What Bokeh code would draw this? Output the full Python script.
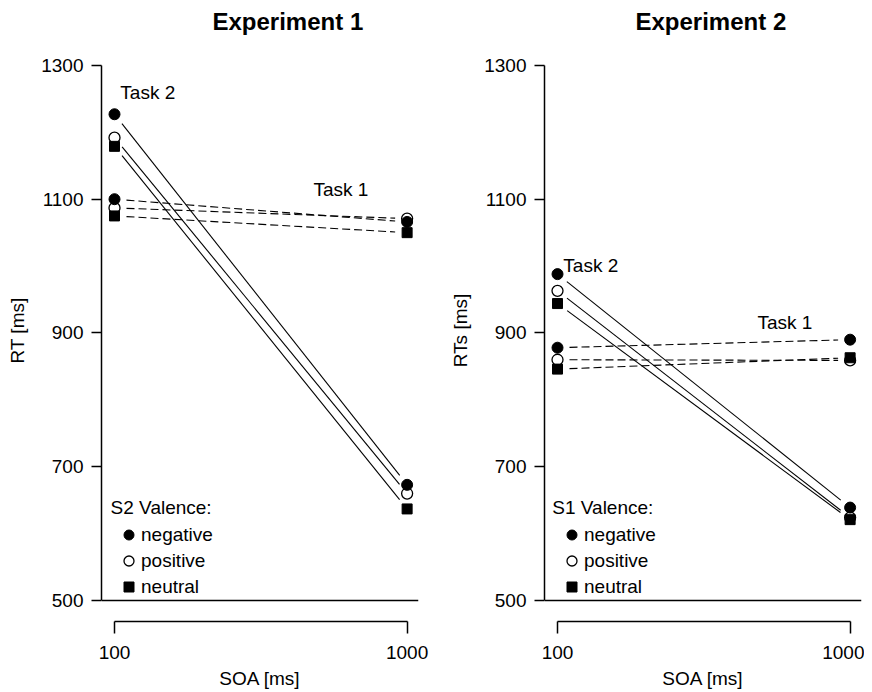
import math
from bokeh.plotting import figure
from bokeh.models import (Title, Legend, LegendItem, FixedTicker, Span,
                          ColumnDataSource, Label)
from bokeh.layouts import row
from bokeh.embed import file_html
from bokeh.resources import INLINE

# ---------------- data ----------------
soa = [100, 1000]
soa_labels = {100: "100", 1000: "1000"}
y_ticks = [500, 700, 900, 1100, 1300]
valences = ["positive", "negative", "neutral"]   # drawing order

# Experiment 1 (S2 valence)
e1_task1 = {"negative": [1100, 1066], "positive": [1087, 1071], "neutral": [1075, 1050]}
e1_task2 = {"negative": [1227, 673], "positive": [1192, 660], "neutral": [1179, 637]}
# Experiment 2 (S1 valence)
e2_task1 = {"negative": [878, 890], "positive": [860, 859], "neutral": [846, 863]}
e2_task2 = {"negative": [988, 639], "positive": [963, 624], "neutral": [944, 621]}

FONT = "Liberation Sans"
W, H = 432, 692
FRAME_W = 317
BORDER_TOP, BORDER_BOTTOM = 37, 71
FRAME_H = H - BORDER_TOP - BORDER_BOTTOM
X0, X1 = 60, 1035
KY = 537 / 800.0
Y0 = 500 - 21 / KY
Y1 = Y0 + FRAME_H / KY
KX = FRAME_W / (X1 - X0)
GAP = 12.0

marker_style = {
    "negative": dict(marker="circle", size=11, fill_color="black", line_color="black"),
    "positive": dict(marker="circle", size=11, fill_color="white", line_color="black", line_width=1.3),
    "neutral": dict(marker="square", size=10, fill_color="black", line_color="black"),
}


def gapped(xs, ys):
    dx = (xs[1] - xs[0]) * KX
    dy = (ys[1] - ys[0]) * KY
    f = GAP / math.hypot(dx, dy)
    return ([xs[0] + f * (xs[1] - xs[0]), xs[1] - f * (xs[1] - xs[0])],
            [ys[0] + f * (ys[1] - ys[0]), ys[1] - f * (ys[1] - ys[0])])


def panel(title, title_offset, border_left, border_right, ylabel, task1, task2,
          legend_title, legend_title_x, t2_pos, t1_pos):
    p = figure(width=W, height=H, x_range=(X0, X1), y_range=(Y0, Y1),
               output_backend="svg", toolbar_location=None,
               min_border_left=border_left, min_border_right=border_right,
               min_border_top=BORDER_TOP, min_border_bottom=BORDER_BOTTOM)
    p.title = Title(text=title, align="left", offset=title_offset,
                    text_font=FONT, text_font_size="24px", text_font_style="bold",
                    text_color="black", standoff=10)
    p.outline_line_color = None
    p.grid.visible = False
    p.background_fill_color = "white"
    p.border_fill_color = "white"

    for ax in (p.xaxis[0], p.yaxis[0]):
        ax.axis_line_width = 1.5
        ax.major_tick_line_width = 1.5
        ax.major_tick_in = 0
        ax.minor_tick_line_color = None
        ax.major_label_text_font = FONT
        ax.major_label_text_font_size = "19px"
        ax.major_label_text_color = "black"
        ax.axis_label_text_font = FONT
        ax.axis_label_text_font_size = "19px"
        ax.axis_label_text_font_style = "normal"
        ax.axis_label_text_color = "black"
        ax.axis_line_color = "black"
        ax.major_tick_line_color = "black"

    p.yaxis.ticker = FixedTicker(ticks=y_ticks)
    p.yaxis.bounds = (500, 1300)
    p.yaxis.major_tick_out = 10
    p.yaxis.major_label_standoff = 8
    p.yaxis.axis_label = ylabel
    p.yaxis.axis_label_standoff = 10
    p.yaxis.major_label_orientation = "horizontal"

    p.xaxis.ticker = FixedTicker(ticks=soa)
    p.xaxis.major_label_overrides = soa_labels
    p.xaxis.bounds = (100, 1000)
    p.xaxis.major_tick_out = 12
    p.xaxis.major_label_standoff = 12
    p.xaxis.axis_label = "SOA [ms]"
    p.xaxis.axis_label_standoff = 6

    p.add_layout(Span(location=500, dimension="width", line_color="black", line_width=1.5))

    # lines
    for v in valences:
        gx, gy = gapped(soa, task2[v])
        p.line(gx, gy, line_color="black", line_width=1.1)
        gx, gy = gapped(soa, task1[v])
        p.line(gx, gy, line_color="black", line_width=1.1, line_dash="8 4")

    # points
    items = {}
    for v in valences:
        src = ColumnDataSource(dict(x=soa + soa, y=task1[v] + task2[v]))
        r = p.scatter("x", "y", source=src, **marker_style[v])
        items[v] = r

    legend = Legend(items=[LegendItem(label=v, renderers=[items[v]])
                           for v in ["negative", "positive", "neutral"]],
                    location=(15, 22), orientation="vertical",
                    padding=2, margin=0, spacing=1,
                    glyph_width=25, glyph_height=25, label_height=25,
                    label_standoff=0, label_text_font=FONT, label_text_font_size="19px",
                    label_text_color="black",
                    border_line_color=None, background_fill_alpha=0)
    p.add_layout(legend)
    p.add_layout(Label(x=legend_title_x, y=639, text=legend_title, text_font=FONT,
                       text_font_size="19px", text_baseline="middle", text_color="black"))

    p.add_layout(Label(x=t2_pos[0], y=t2_pos[1], text="Task 2", text_font=FONT,
                       text_font_size="19px", text_baseline="middle", text_color="black"))
    p.add_layout(Label(x=t1_pos[0], y=t1_pos[1], text="Task 1", text_font=FONT,
                       text_font_size="19px", text_baseline="middle", text_color="black"))
    return p


p1 = panel("Experiment 1", 111, 101, W - 101 - FRAME_W, "RT [ms]", e1_task1, e1_task2,
           "S2 Valence:", 88, (118, 1260), (712, 1115))
p2 = panel("Experiment 2", 91, 112, W - 112 - FRAME_W, "RTs [ms]", e2_task1, e2_task2,
           "S1 Valence:", 84, (118, 1001), (715, 916))

layout = row(p1, p2)
open("out.html", "w").write(file_html(layout, INLINE))
